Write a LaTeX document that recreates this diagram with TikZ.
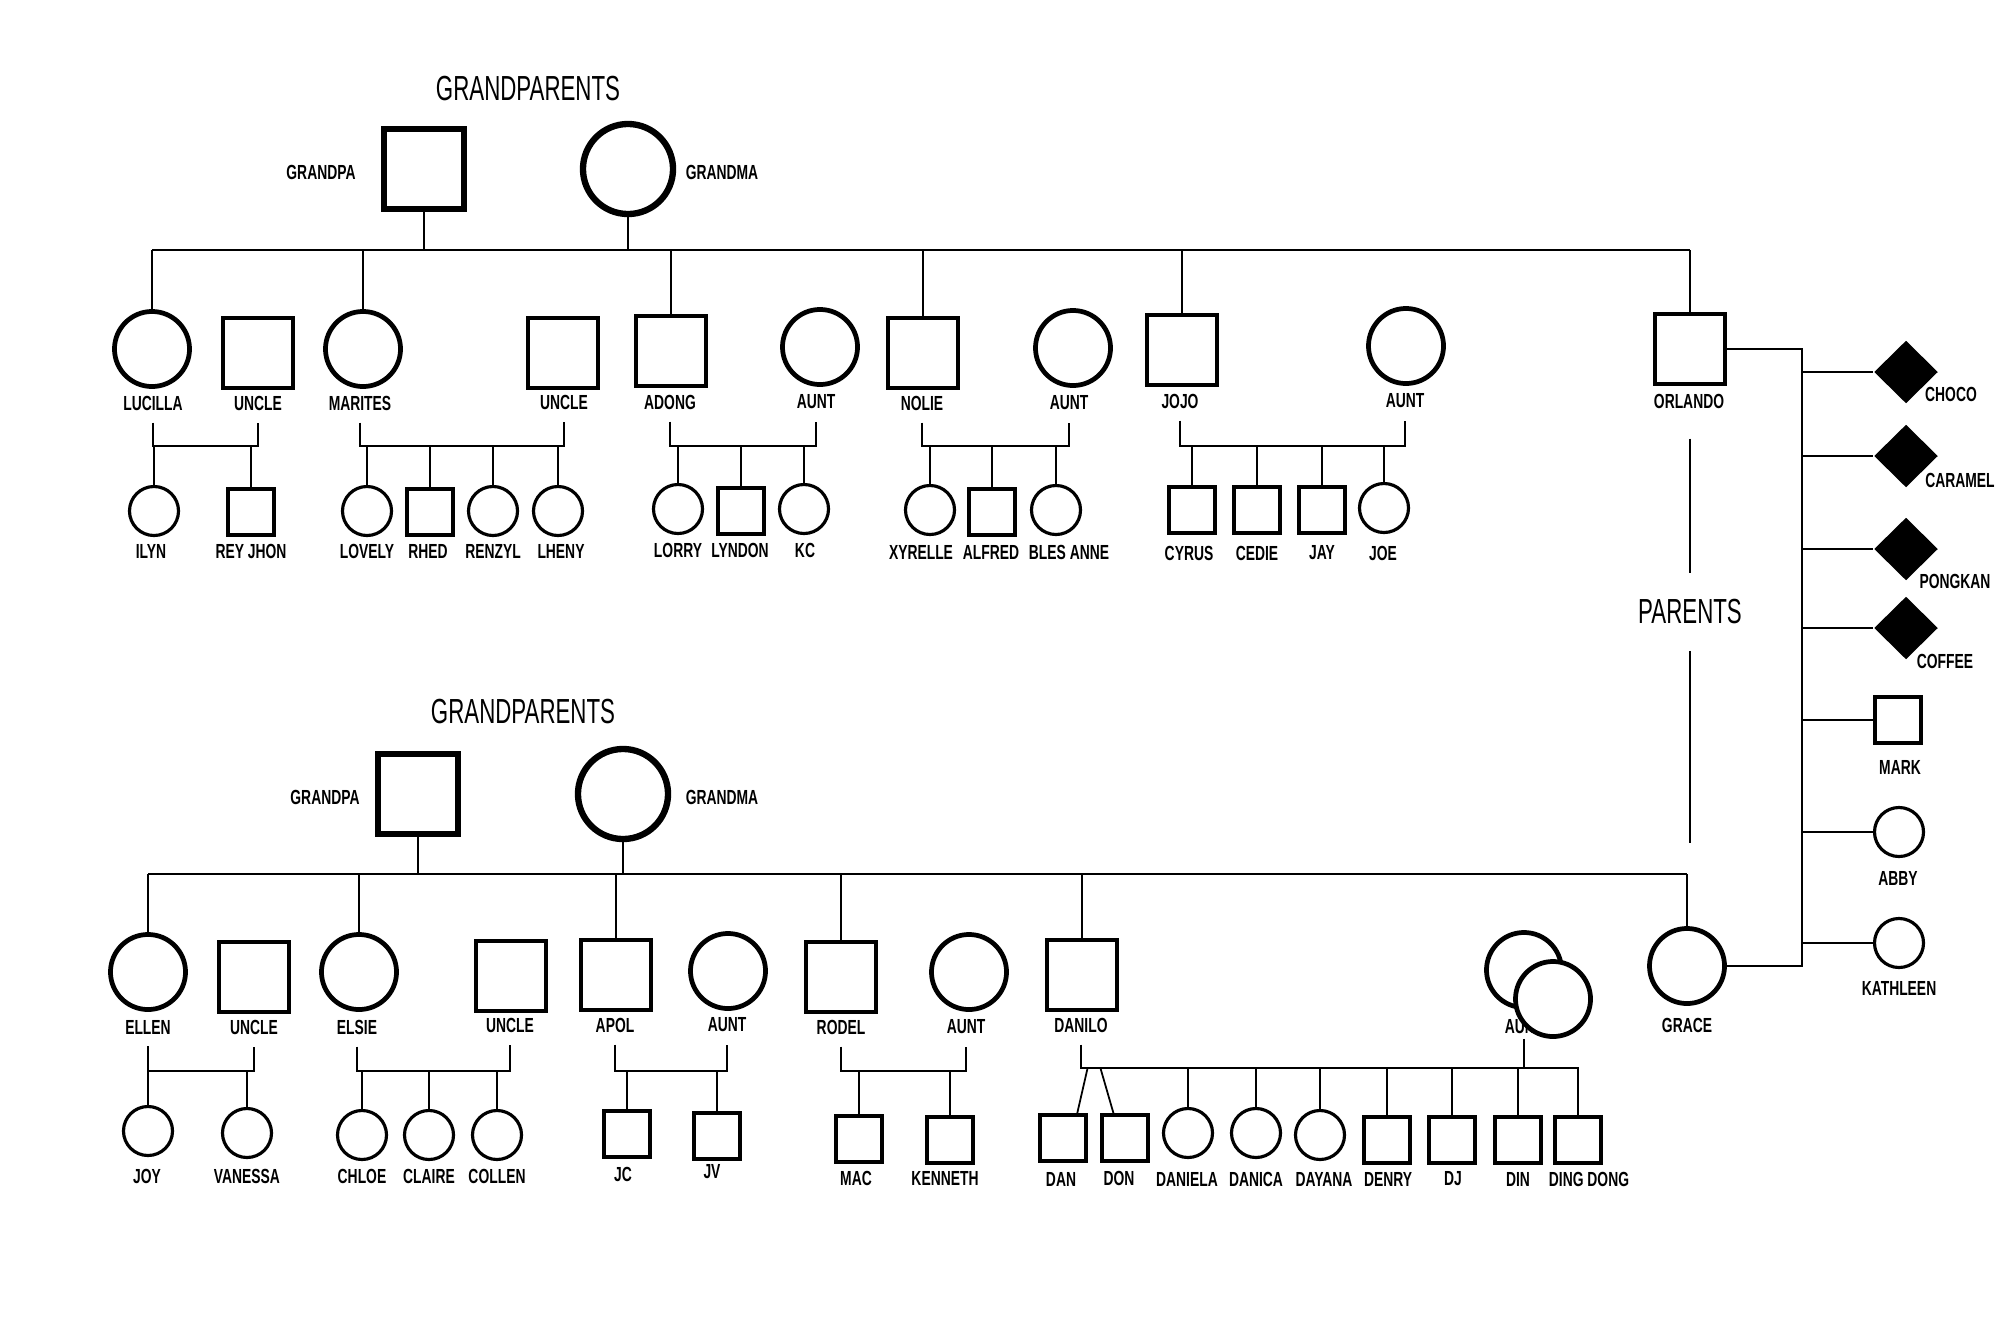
\documentclass[tikz,border=0pt]{standalone}
\usepackage{fontspec}
\setmainfont[FakeStretch=0.68]{Liberation Sans}
\newfontfamily\headfont[FakeStretch=0.64]{Liberation Sans}
\usepackage{tikz}
\usetikzlibrary{shapes.geometric}
\tikzset{male/.style={draw, rectangle, minimum size=#1, inner sep=0pt, fill=white}}
\tikzset{male/.default=7mm}
\tikzset{female/.style={draw, circle, minimum size=#1, inner sep=0pt, fill=white}}
\tikzset{female/.default=7.5mm}
\tikzset{pet/.style={diamond, fill, minimum width=6.4mm, minimum height=6.3mm, inner sep=0pt}}
\tikzset{elder/.style={line width=1.8pt}}
\tikzset{adult/.style={line width=1.35pt}}
\tikzset{kid/.style={line width=0.9pt}}
\tikzset{link/.style={line width=0.5pt}}
\tikzset{heading/.style={font=\headfont\fontsize{9.9}{11}\selectfont}}

\begin{document}
\begin{tikzpicture}[x=0.01cm, y=-0.01cm, font=\fontsize{5.8}{6}\selectfont\bfseries]
    \fill[white] (0,0) rectangle (2000,1333);
    \useasboundingbox (0,0) rectangle (2000,1333);

    % first family
    \node[heading] (title1) at (528,89) {GRANDPARENTS};
    \node[male=8mm, elder] (gpa1) at (424,169) {};
    \node[female=9mm, elder] (gma1) at (628,169) {};
    \node (l-gpa1) at (321,172) {GRANDPA};
    \node (l-gma1) at (722,172) {GRANDMA};
    \coordinate (sib1) at (0,250);

    \node[female, adult] (lucilla) at (152,349) {};
    \node[male, adult] (uncle1) at (258,353) {};
    \node[female, adult] (marites) at (363,349) {};
    \node[male, adult] (uncle2) at (563,353) {};
    \node[male, adult] (adong) at (671,351) {};
    \node[female, adult] (aunt1) at (820,347) {};
    \node[male, adult] (nolie) at (923,353) {};
    \node[female, adult] (aunt2) at (1073,348) {};
    \node[male, adult] (jojo) at (1182,350) {};
    \node[female, adult] (aunt3) at (1406,346) {};
    \node[male, adult] (orlando) at (1690,349) {};

    \node (l-lucilla) at (153,403) {LUCILLA};
    \node (l-uncle1) at (258,403) {UNCLE};
    \node (l-marites) at (360,403) {MARITES};
    \node (l-uncle2) at (564,402) {UNCLE};
    \node (l-adong) at (670,402) {ADONG};
    \node (l-aunt1) at (816,402) {AUNT};
    \node (l-nolie) at (922,403) {NOLIE};
    \node (l-aunt2) at (1069,403) {AUNT};
    \node (l-jojo) at (1180,401) {JOJO};
    \node (l-aunt3) at (1405,401) {AUNT};
    \node (l-orlando) at (1689,401) {ORLANDO};
    \coordinate (kbar1) at (0,446);

    \node[female=4.9mm, kid] (ilyn) at (154,511) {};
    \node[male=4.6mm, kid] (reyjhon) at (251,512) {};
    \node[female=4.9mm, kid] (lovely) at (367,511) {};
    \node[male=4.6mm, kid] (rhed) at (430,512) {};
    \node[female=4.9mm, kid] (renzyl) at (493,511) {};
    \node[female=4.9mm, kid] (lheny) at (558,511) {};
    \node[female=4.9mm, kid] (lorry) at (678,509) {};
    \node[male=4.6mm, kid] (lyndon) at (741,511) {};
    \node[female=4.9mm, kid] (kc) at (804,509) {};
    \node[female=4.9mm, kid] (xyrelle) at (930,510) {};
    \node[male=4.6mm, kid] (alfred) at (992,512) {};
    \node[female=4.9mm, kid] (blesanne) at (1056,510) {};
    \node[male=4.6mm, kid] (cyrus) at (1192,510) {};
    \node[male=4.6mm, kid] (cedie) at (1257,510) {};
    \node[male=4.6mm, kid] (jay) at (1322,510) {};
    \node[female=4.9mm, kid] (joe) at (1384,508) {};

    \node (l-ilyn) at (151,551) {ILYN};
    \node (l-reyjhon) at (251,551) {REY JHON};
    \node (l-lovely) at (367,551) {LOVELY};
    \node (l-rhed) at (428,551) {RHED};
    \node (l-renzyl) at (493,551) {RENZYL};
    \node (l-lheny) at (561,551) {LHENY};
    \node (l-lorry) at (678,550) {LORRY};
    \node (l-lyndon) at (740,550) {LYNDON};
    \node (l-kc) at (805,550) {KC};
    \node (l-xyrelle) at (921,552) {XYRELLE};
    \node (l-alfred) at (991,552) {ALFRED};
    \node (l-blesanne) at (1069,552) {BLES ANNE};
    \node (l-cyrus) at (1189,553) {CYRUS};
    \node (l-cedie) at (1257,553) {CEDIE};
    \node (l-jay) at (1322,553) {JAY};
    \node (l-joe) at (1383,553) {JOE};

    \draw[link] (gpa1.south) -- (gpa1 |- sib1);
    \draw[link] (gma1.south) -- (gma1 |- sib1);
    \draw[link] (lucilla |- sib1) -- (orlando |- sib1);
    \foreach \n in {lucilla, marites, adong, nolie, jojo, orlando}
        \draw[link] (\n |- sib1) -- (\n.north);

    \draw[link] (l-lucilla.south) |- (l-uncle1 |- kbar1) -- (l-uncle1.south);
    \draw[link] (l-marites.south) |- (l-uncle2 |- kbar1) -- (l-uncle2.south);
    \draw[link] (l-adong.south) |- (l-aunt1 |- kbar1) -- (l-aunt1.south);
    \draw[link] (l-nolie.south) |- (l-aunt2 |- kbar1) -- (l-aunt2.south);
    \draw[link] (l-jojo.south) |- (l-aunt3 |- kbar1) -- (l-aunt3.south);
    \foreach \n in {ilyn, reyjhon, lovely, rhed, renzyl, lheny, lorry, lyndon, kc, xyrelle, alfred, blesanne, cyrus, cedie, jay, joe}
        \draw[link] (\n |- kbar1) -- (\n.north);

    % second family
    \node[heading] (title2) at (523,712) {GRANDPARENTS};
    \node[male=8mm, elder] (gpa2) at (418,794) {};
    \node[female=9mm, elder] (gma2) at (623,794) {};
    \node (l-gpa2) at (325,797) {GRANDPA};
    \node (l-gma2) at (722,797) {GRANDMA};
    \coordinate (sib2) at (0,874);

    \node[female, adult] (ellen) at (148,972) {};
    \node[male, adult] (uncle3) at (254,977) {};
    \node[female, adult] (elsie) at (359,972) {};
    \node[male, adult] (uncle4) at (511,976) {};
    \node[male, adult] (apol) at (616,975) {};
    \node[female, adult] (aunt4) at (728,971) {};
    \node[male, adult] (rodel) at (841,977) {};
    \node[female, adult] (aunt5) at (969,972) {};
    \node[male, adult] (danilo) at (1082,975) {};
    \node[female, adult] (grace) at (1687,966) {};

    \node (l-ellen) at (148,1027) {ELLEN};
    \node (l-uncle3) at (254,1027) {UNCLE};
    \node (l-elsie) at (357,1027) {ELSIE};
    \node (l-uncle4) at (510,1025) {UNCLE};
    \node (l-apol) at (615,1025) {APOL};
    \node (l-aunt4) at (727,1025) {AUNT};
    \node (l-rodel) at (841,1027) {RODEL};
    \node (l-aunt5) at (966,1027) {AUNT};
    \node (l-danilo) at (1081,1025) {DANILO};
    \node (l-grace) at (1687,1025) {GRACE};
    \node[female, adult] (aunt6) at (1524,970) {};
    \node (l-aunt6) at (1524,1027) {AUNT};
    \node[female, adult] (aunt6b) at (1553,999) {};
    \coordinate (kbar2) at (0,1071);
    \coordinate (kbar3) at (0,1068);

    \node[female=4.9mm, kid] (joy) at (148,1131) {};
    \node[female=4.9mm, kid] (vanessa) at (247,1133) {};
    \node[female=4.9mm, kid] (chloe) at (362,1135) {};
    \node[female=4.9mm, kid] (claire) at (429,1135) {};
    \node[female=4.9mm, kid] (collen) at (497,1135) {};
    \node[male=4.6mm, kid] (jc) at (627,1134) {};
    \node[male=4.6mm, kid] (jv) at (717,1136) {};
    \node[male=4.6mm, kid] (mac) at (859,1139) {};
    \node[male=4.6mm, kid] (kenneth) at (950,1140) {};
    \node[male=4.6mm, kid] (dan) at (1063,1138) {};
    \node[male=4.6mm, kid] (don) at (1125,1138) {};
    \node[female=4.9mm, kid] (daniela) at (1188,1133) {};
    \node[female=4.9mm, kid] (danica) at (1256,1133) {};
    \node[female=4.9mm, kid] (dayana) at (1320,1135) {};
    \node[male=4.6mm, kid] (denry) at (1387,1140) {};
    \node[male=4.6mm, kid] (dj) at (1452,1140) {};
    \node[male=4.6mm, kid] (din) at (1518,1140) {};
    \node[male=4.6mm, kid] (dingdong) at (1578,1140) {};

    \node (l-joy) at (147,1176) {JOY};
    \node (l-vanessa) at (247,1176) {VANESSA};
    \node (l-chloe) at (362,1176) {CHLOE};
    \node (l-claire) at (429,1176) {CLAIRE};
    \node (l-collen) at (497,1176) {COLLEN};
    \node (l-jc) at (623,1174) {JC};
    \node (l-jv) at (712,1172) {JV};
    \node (l-mac) at (856,1178) {MAC};
    \node (l-kenneth) at (945,1178) {KENNETH};
    \node (l-dan) at (1061,1179) {DAN};
    \node (l-don) at (1119,1178) {DON};
    \node (l-daniela) at (1187,1179) {DANIELA};
    \node (l-danica) at (1256,1179) {DANICA};
    \node (l-dayana) at (1324,1179) {DAYANA};
    \node (l-denry) at (1388,1179) {DENRY};
    \node (l-dj) at (1453,1179) {DJ};
    \node (l-din) at (1518,1179) {DIN};
    \node (l-dingdong) at (1589,1179) {DING DONG};

    \draw[link] (gpa2.south) -- (gpa2 |- sib2);
    \draw[link] (gma2.south) -- (gma2 |- sib2);
    \draw[link] (ellen |- sib2) -- (grace |- sib2);
    \foreach \n in {ellen, elsie, apol, rodel, danilo, grace}
        \draw[link] (\n |- sib2) -- (\n.north);

    \draw[link] (l-ellen.south) |- (l-uncle3 |- kbar2) -- (l-uncle3.south);
    \draw[link] (l-elsie.south) |- (l-uncle4 |- kbar2) -- (l-uncle4.south);
    \draw[link] (l-apol.south) |- (l-aunt4 |- kbar2) -- (l-aunt4.south);
    \draw[link] (l-rodel.south) |- (l-aunt5 |- kbar2) -- (l-aunt5.south);
    \draw[link] (l-danilo.south) |- (dingdong |- kbar3) -- (dingdong.north);
    \draw[link] (aunt6b.south -| l-aunt6) -- (l-aunt6 |- kbar3);
    \foreach \n in {joy, vanessa, chloe, claire, collen, jc, jv, mac, kenneth}
        \draw[link] (\n |- kbar2) -- (\n.north);
    \foreach \n in {daniela, danica, dayana, denry, dj, din}
        \draw[link] (\n |- kbar3) -- (\n.north);
    \draw[link] (dan.north east |- kbar3) -- (dan.60);
    \draw[link] (don.north west |- kbar3) -- (don.115);

    % parents and their children
    \node[heading] (parents) at (1690,612) {PARENTS};
    \draw[link, shorten <=1.8mm, shorten >=1.4mm] (l-orlando.south -| parents) -- (parents.north);
    \draw[link, shorten <=1.4mm, shorten >=8.3mm] (parents.south) -- (parents |- grace.north);
    \coordinate (pbar) at (1802,0);
    \draw[link] (orlando.east) -| (pbar |- grace.east) -- (grace.east);

    \node[pet] (choco) at (1906,372) {};
    \node[pet] (caramel) at (1906,456) {};
    \node[pet] (pongkan) at (1906,549) {};
    \node[pet] (coffee) at (1906,628) {};
    \node[male=4.6mm, kid] (mark) at (1898,720) {};
    \node[female=4.9mm, kid] (abby) at (1899,832) {};
    \node[female=4.9mm, kid] (kathleen) at (1899,943) {};

    \node (l-choco) at (1951,394) {CHOCO};
    \node (l-caramel) at (1960,480) {CARAMEL};
    \node (l-pongkan) at (1955,581) {PONGKAN};
    \node (l-coffee) at (1945,661) {COFFEE};
    \node (l-mark) at (1900,767) {MARK};
    \node (l-abby) at (1898,878) {ABBY};
    \node (l-kathleen) at (1899,988) {KATHLEEN};

    \foreach \n in {choco, caramel, pongkan, coffee, mark, abby, kathleen}
        \draw[link] (pbar |- \n) -- (\n.west);
\end{tikzpicture}
\end{document}
